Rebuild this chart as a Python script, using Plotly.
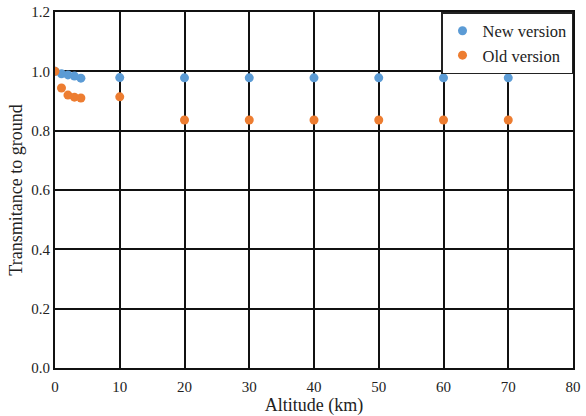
import plotly.graph_objects as go

altitude = [0, 1, 2, 3, 4, 10, 20, 30, 40, 50, 60, 70]
new_version = [1.0, 0.992, 0.988, 0.984, 0.977, 0.979, 0.978, 0.978, 0.978, 0.978, 0.978, 0.978]
old_version = [1.0, 0.944, 0.920, 0.913, 0.910, 0.914, 0.836, 0.836, 0.836, 0.836, 0.836, 0.836]

font = "Liberation Serif, Tinos, Times New Roman, serif"

fig = go.Figure()
fig.add_trace(go.Scatter(x=altitude, y=new_version, mode="markers", name="New version",
                         marker=dict(color="#5B9BD5", size=9)))
fig.add_trace(go.Scatter(x=altitude, y=old_version, mode="markers", name="Old version",
                         marker=dict(color="#ED7D31", size=9)))

fig.update_layout(
    width=586, height=416,
    margin=dict(l=55, r=13, t=12, b=48),
    paper_bgcolor="white", plot_bgcolor="white",
    font=dict(family=font, size=15, color="#222"),
    showlegend=True,
    legend=dict(x=1, y=1, xanchor="right", yanchor="top",
                bgcolor="white", bordercolor="#222", borderwidth=1.5,
                font=dict(family=font, size=16.5), itemwidth=30,
                tracegroupgap=0),
)
fig.update_xaxes(range=[0, 80], dtick=10, showgrid=True, gridcolor="#111", gridwidth=2,
                 showline=True, linecolor="#111", linewidth=2, mirror=True, automargin=False,
                 zeroline=False, ticks="", ticklabelstandoff=4,
                 title=dict(text="Altitude (km)", standoff=2),
                 tickfont=dict(family=font, size=15))
fig.update_yaxes(range=[0, 1.2], dtick=0.2, tickformat=".1f", showgrid=True, gridcolor="#111", gridwidth=2,
                 showline=True, linecolor="#111", linewidth=2, mirror=True, automargin=False,
                 zeroline=False, ticks="", title=dict(text="Transmitance to ground", standoff=4),
                 tickfont=dict(family=font, size=15))

fig.write_html("out.html", config={"displayModeBar": False},
               post_script="document.body.style.margin='0';")
